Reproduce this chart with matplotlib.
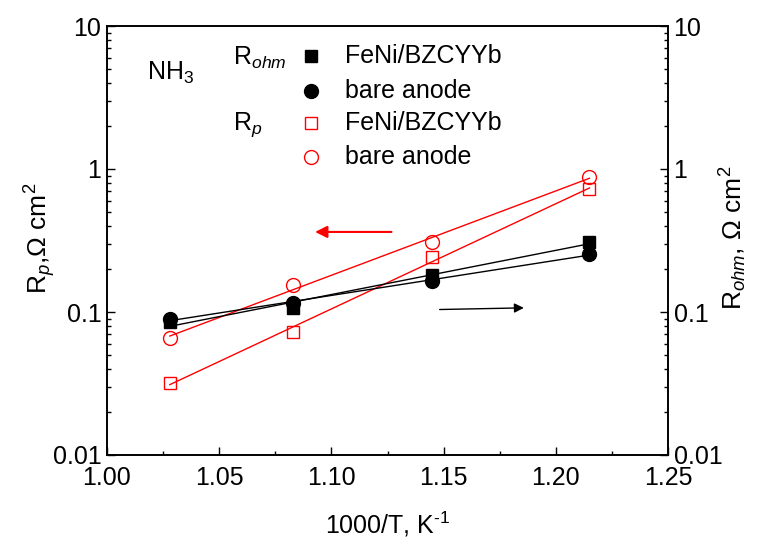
import numpy as np
import matplotlib
matplotlib.use("Agg")
import matplotlib.pyplot as plt
from matplotlib.ticker import LogLocator, NullFormatter, FixedLocator, FuncFormatter

plt.rcParams['font.family'] = ['Liberation Sans', 'DejaVu Sans']
plt.rcParams['mathtext.fontset'] = 'custom'
plt.rcParams['mathtext.rm'] = 'Liberation Sans'
plt.rcParams['mathtext.it'] = 'Liberation Sans:italic'

# 1000/T, K^-1
inv_T = [1.028, 1.083, 1.145, 1.215]

# R_ohm (right axis)
rohm_feni = [0.085, 0.107, 0.181, 0.31]
rohm_bare = [0.089, 0.116, 0.165, 0.255]

# R_p (left axis)
rp_feni = [0.032, 0.0725, 0.243, 0.72]
rp_bare = [0.066, 0.155, 0.31, 0.88]

FS = 18


def fit_line(x, y):
    # linear fit in log space (Arrhenius)
    x = np.asarray(x)
    k, b = np.polyfit(x, np.log10(y), 1)
    return x, 10 ** (k * x + b)


fig = plt.figure(figsize=(7.6, 5.47), dpi=100)
ax = fig.add_axes([107 / 760, 1 - 455 / 547, (668 - 107) / 760, (455 - 26) / 547])
ax2 = ax.twinx()

for axis in (ax, ax2):
    axis.set_yscale('log')
    axis.set_ylim(0.01, 10)
    axis.yaxis.set_major_locator(FixedLocator([0.01, 0.1, 1, 10]))
    axis.yaxis.set_major_formatter(FuncFormatter(lambda v, p: f'{v:g}'))
    axis.yaxis.set_minor_locator(LogLocator(base=10, subs=np.arange(2, 10)))
    axis.yaxis.set_minor_formatter(NullFormatter())
    axis.tick_params(axis='y', which='major', direction='in', length=6, width=1, labelsize=FS, pad=4)
    axis.tick_params(axis='y', which='minor', direction='in', length=3, width=1)
    for s in axis.spines.values():
        s.set_linewidth(1.2)

ax.set_xlim(1.0, 1.25)
ax.set_xticks([1.00, 1.05, 1.10, 1.15, 1.20, 1.25])
ax.set_xticks([1.025, 1.075, 1.125, 1.175, 1.225], minor=True)
ax.xaxis.set_major_formatter(FuncFormatter(lambda v, p: f'{v:.2f}'))
ax.tick_params(axis='x', which='major', direction='in', length=6, width=1, labelsize=FS, pad=8)
ax.tick_params(axis='x', which='minor', direction='in', length=3, width=1)

# R_p on left axis
ax.plot(*fit_line(inv_T, rp_feni), color='red', lw=1)
ax.plot(*fit_line(inv_T, rp_bare), color='red', lw=1)
ax.plot(inv_T, rp_feni, ls='none', marker='s', ms=9, mfc='none', mec='red', mew=1)
ax.plot(inv_T, rp_bare, ls='none', marker='o', ms=10, mfc='none', mec='red', mew=1)

# R_ohm on right axis
ax2.plot(*fit_line(inv_T, rohm_feni), color='black', lw=1)
ax2.plot(*fit_line(inv_T, rohm_bare), color='black', lw=1)
ax2.plot(inv_T, rohm_feni, ls='none', marker='s', ms=9, color='black')
ax2.plot(inv_T, rohm_bare, ls='none', marker='o', ms=10, color='black')

# arrows
ax.annotate('', xy=(1.0915, 0.363), xytext=(1.128, 0.363),
            arrowprops=dict(arrowstyle='-|>', color='red', lw=1.5, mutation_scale=18))
ax.annotate('', xy=(1.187, 0.107), xytext=(1.147, 0.104),
            arrowprops=dict(arrowstyle='-|>', color='black', lw=1, mutation_scale=14))

ax.set_xlabel('1000/T, K$^{\u20101}$', fontsize=FS, labelpad=14)
# axis titles placed by hand so they sit like the original
fig.text(40 / 760, 1 - 238 / 547, r'R$_{\mathit{p}}$,$\Omega$ cm$^2$', fontsize=FS + 1,
         rotation=90, ha='center', va='center')
fig.text(733 / 760, 1 - 238 / 547, r'R$_{\mathit{ohm}}$, $\Omega$ cm$^2$', fontsize=FS + 1,
         rotation=90, ha='center', va='center')

# custom legend
fig.text(147 / 760, 1 - 73 / 547, 'NH$_3$', fontsize=FS, va='center')
fig.text(233 / 760, 1 - 58 / 547, r'R$_{\mathit{ohm}}$', fontsize=FS, va='center')
fig.text(233 / 760, 1 - 125 / 547, r'R$_{\mathit{p}}$', fontsize=FS, va='center')
leg_items = [
    (56, 's', 'black', 'black', 'FeNi/BZCYYb'),
    (91, 'o', 'black', 'black', 'bare anode'),
    (123, 's', 'none', 'red', 'FeNi/BZCYYb'),
    (157, 'o', 'none', 'red', 'bare anode'),
]
for py, mk, fc, ec, label in leg_items:
    fig.lines.append(plt.Line2D([311 / 760], [1 - py / 547], transform=fig.transFigure,
                                marker=mk, ms=9 if mk == 's' else 10, mfc=fc, mec=ec, mew=1, ls='none'))
    fig.text(345 / 760, 1 - py / 547, label, fontsize=FS, va='center')

fig.savefig('out.png', dpi=100)
